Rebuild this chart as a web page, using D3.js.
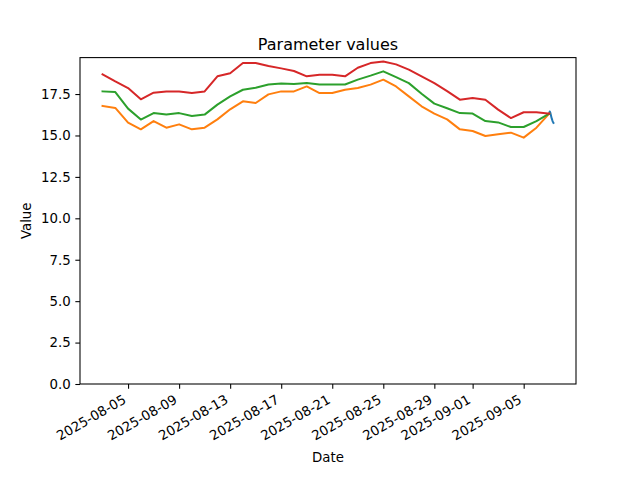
<!DOCTYPE html>
<html>
<head>
<meta charset="utf-8">
<script src="https://cdn.jsdelivr.net/npm/d3@7"></script>
<style>
  html, body { margin: 0; padding: 0; background: #fff; }
  svg { display: block; font-family: "DejaVu Sans", sans-serif; }
</style>
</head>
<body>
<svg id="chart" width="640" height="480"></svg>
<script>
// ---- Data ----
const dailyDates = [
  "2025-08-03","2025-08-04","2025-08-05","2025-08-06","2025-08-07","2025-08-08",
  "2025-08-09","2025-08-10","2025-08-11","2025-08-12","2025-08-13","2025-08-14",
  "2025-08-15","2025-08-16","2025-08-17","2025-08-18","2025-08-19","2025-08-20",
  "2025-08-21","2025-08-22","2025-08-23","2025-08-24","2025-08-25","2025-08-26",
  "2025-08-27","2025-08-28","2025-08-29","2025-08-30","2025-08-31","2025-09-01",
  "2025-09-02","2025-09-03","2025-09-04","2025-09-05","2025-09-06","2025-09-07"
];
const upperValues = [18.69, 18.26, 17.86, 17.18, 17.58, 17.66, 17.66, 17.56, 17.66, 18.57, 18.76, 19.37,
  19.37, 19.19, 19.05, 18.89, 18.57, 18.67, 18.67, 18.57, 19.09, 19.37, 19.47, 19.29,
  18.97, 18.57, 18.16, 17.68, 17.16, 17.26, 17.16, 16.56, 16.05, 16.40, 16.40, 16.32];
const meanValues = [17.66, 17.62, 16.62, 15.96, 16.35, 16.26, 16.35, 16.17, 16.26, 16.86, 17.36, 17.76,
  17.88, 18.08, 18.14, 18.10, 18.16, 18.07, 18.07, 18.08, 18.37, 18.61, 18.87, 18.52,
  18.16, 17.52, 16.92, 16.64, 16.35, 16.32, 15.87, 15.79, 15.51, 15.51, 15.87, 16.32];
const lowerValues = [16.78, 16.66, 15.77, 15.37, 15.87, 15.47, 15.67, 15.37, 15.47, 15.97, 16.58, 17.06,
  16.96, 17.48, 17.66, 17.66, 17.96, 17.56, 17.56, 17.76, 17.86, 18.07, 18.37, 17.96,
  17.36, 16.76, 16.32, 15.97, 15.37, 15.27, 14.97, 15.07, 15.17, 14.87, 15.47, 16.32];
const recentTimes = ["2025-09-07T00:00","2025-09-07T01:00","2025-09-07T02:00","2025-09-07T03:00",
  "2025-09-07T04:00","2025-09-07T05:00","2025-09-07T06:00","2025-09-07T07:00","2025-09-07T08:00"];
const recentValues = [16.32, 16.45, 16.38, 16.25, 16.12, 16.0, 15.9, 15.82, 15.76];
const yTickValues = [0, 2.5, 5, 7.5, 10, 12.5, 15, 17.5];
const xTickLabels = ["2025-08-05","2025-08-09","2025-08-13","2025-08-17","2025-08-21",
  "2025-08-25","2025-08-29","2025-09-01","2025-09-05"];
const titleText = "Parameter values";
const xLabelText = "Date";
const yLabelText = "Value";

// ---- Layout ----
const W = 640, H = 480;
const axLeft = 80, axRight = 576, axTop = 57.6, axBottom = 384;
const parse = s => new Date(s + (s.length === 10 ? "T00:00:00Z" : ":00Z"));

const daily = dailyDates.map(parse);
const recent = recentTimes.map(parse);

const allT = daily.concat(recent);
const t0 = d3.min(allT), t1 = d3.max(allT);
const span = t1 - t0;
const x = d3.scaleUtc()
  .domain([new Date(+t0 - 0.05 * span), new Date(+t1 + 0.05 * span)])
  .range([axLeft, axRight]);

const allV = upperValues.concat(meanValues, lowerValues, recentValues);
const vmax = d3.max(allV), vmin = d3.min(allV);
const y = d3.scaleLinear()
  .domain([0, vmax + 0.05 * (vmax - vmin)])
  .range([axBottom, axTop]);

const svg = d3.select("#chart");
svg.append("rect").attr("width", W).attr("height", H).attr("fill", "#fff");

const plot = svg.append("g");
const line = d3.line().x(d => x(d[0])).y(d => y(d[1]));

const series = [
  { t: recent, v: recentValues, color: "#1f77b4" },
  { t: daily, v: lowerValues, color: "#ff7f0e" },
  { t: daily, v: meanValues, color: "#2ca02c" },
  { t: daily, v: upperValues, color: "#d62728" }
];
series.forEach(s => {
  plot.append("path")
    .datum(s.t.map((t, i) => [t, s.v[i]]))
    .attr("d", line)
    .attr("fill", "none")
    .attr("stroke", s.color)
    .attr("stroke-width", 2)
    .attr("stroke-linejoin", "round")
    .attr("stroke-linecap", "square");
});

// ---- Axes ----
const tickLen = 4.67, pad = 4.67, fs = 13.33;
const xTicks = xTickLabels.map(parse);

const xAxis = d3.axisBottom(x)
  .tickValues(xTicks)
  .tickSize(tickLen)
  .tickPadding(pad)
  .tickFormat(d3.utcFormat("%Y-%m-%d"));
const gx = svg.append("g").attr("transform", `translate(0,${axBottom})`).call(xAxis);
gx.select(".domain").remove();
gx.selectAll(".tick line").attr("stroke", "#000").attr("stroke-width", 1.07);
gx.selectAll(".tick text")
  .attr("fill", "#000")
  .attr("font-size", fs)
  .attr("font-family", "DejaVu Sans")
  .attr("text-anchor", "end")
  .attr("dy", null)
  .attr("y", null)
  .attr("transform", `translate(-1.5,${tickLen + pad + 8.8}) rotate(-30)`);

const yAxis = d3.axisLeft(y)
  .tickValues(yTickValues)
  .tickSize(tickLen)
  .tickPadding(pad)
  .tickFormat(d3.format(".1f"));
const gy = svg.append("g").attr("transform", `translate(${axLeft},0)`).call(yAxis);
gy.select(".domain").remove();
gy.selectAll(".tick line").attr("stroke", "#000").attr("stroke-width", 1.07);
gy.selectAll(".tick text")
  .attr("fill", "#000")
  .attr("font-size", fs)
  .attr("font-family", "DejaVu Sans");

// spines
svg.append("rect")
  .attr("x", axLeft).attr("y", axTop)
  .attr("width", axRight - axLeft).attr("height", axBottom - axTop)
  .attr("fill", "none").attr("stroke", "#000").attr("stroke-width", 1.07);

// ---- Labels ----
svg.append("text")
  .attr("x", (axLeft + axRight) / 2).attr("y", 49.5)
  .attr("text-anchor", "middle")
  .attr("font-size", 16)
  .attr("fill", "#000")
  .text(titleText);

svg.append("text")
  .attr("x", (axLeft + axRight) / 2).attr("y", 462)
  .attr("text-anchor", "middle")
  .attr("font-size", fs)
  .attr("fill", "#000")
  .text(xLabelText);

svg.append("text")
  .attr("transform", `translate(31,${(axTop + axBottom) / 2}) rotate(-90)`)
  .attr("text-anchor", "middle")
  .attr("font-size", fs)
  .attr("fill", "#000")
  .text(yLabelText);
</script>
</body>
</html>
